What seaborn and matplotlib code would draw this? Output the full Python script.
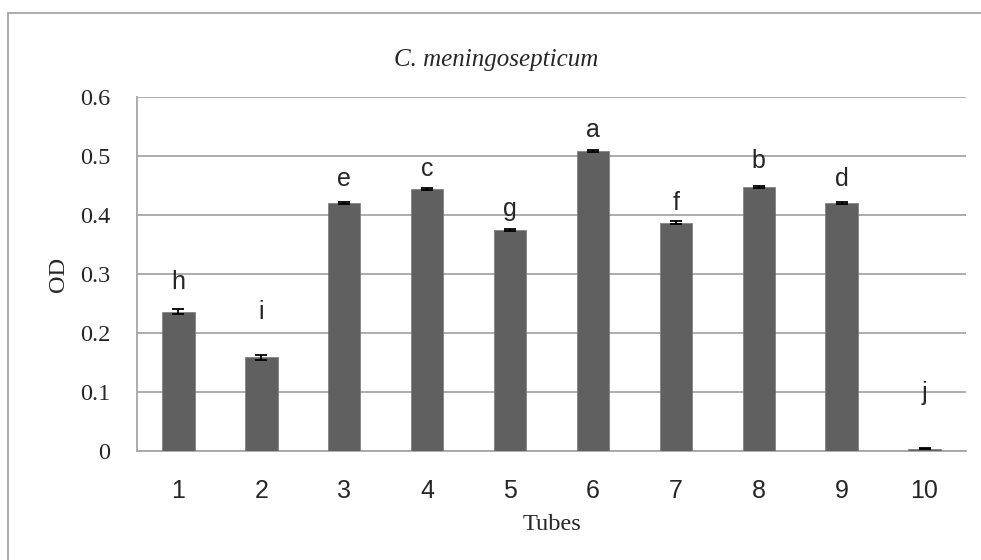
import matplotlib
matplotlib.use("Agg")
import matplotlib.pyplot as plt
import seaborn as sns
import pandas as pd
import numpy as np
from matplotlib.lines import Line2D

tubes = ["1", "2", "3", "4", "5", "6", "7", "8", "9", "10"]
od = [0.236, 0.159, 0.420, 0.444, 0.375, 0.508, 0.387, 0.447, 0.420, 0.004]
err = [0.004, 0.004, 0.002, 0.001, 0.002, 0.002, 0.002, 0.002, 0.002, 0.001]
letters = ["h", "i", "e", "c", "g", "a", "f", "b", "d", "j"]
letter_y = [0.275, 0.224, 0.449, 0.466, 0.398, 0.532, 0.408, 0.480, 0.449, 0.086]
yticks = [0, 0.1, 0.2, 0.3, 0.4, 0.5, 0.6]
ytick_labels = ["0", "0.1", "0.2", "0.3", "0.4", "0.5", "0.6"]

df = pd.DataFrame({"Tubes": tubes, "OD": od})

sns.set_theme(style="white")
plt.rcParams["font.family"] = ["Liberation Sans", "DejaVu Sans"]

SERIF = ["Liberation Serif", "DejaVu Serif"]
SANS = ["Liberation Sans", "DejaVu Sans"]

fig = plt.figure(figsize=(9.81, 5.6), dpi=100)
ax = fig.add_axes([137/981, 1-451/560, (966-137)/981, (451-97)/560])

grid_c = "#a6a6a6"
sns.barplot(data=df, x="Tubes", y="OD", order=tubes, color="#606060",
            width=0.39, saturation=1, ax=ax, zorder=3, edgecolor="#7a7a7a",
            linewidth=0.5)

xpos = np.arange(len(tubes))
ax.errorbar(xpos, od, yerr=err, fmt="none", ecolor="black", elinewidth=1.3,
            capsize=4, capthick=1.3, zorder=4)

for x, t, y in zip(xpos, letters, letter_y):
    ax.text(x, y, t, ha="center", va="baseline", fontsize=18,
            family=SANS, zorder=5)

ax.set_ylim(0, 0.6)
ax.set_xlim(-0.5, len(tubes) - 0.5)
ax.set_yticks(yticks)
ax.set_yticklabels(ytick_labels, family=SERIF, fontsize=17.5)
ax.yaxis.grid(True, color=grid_c, linewidth=1.3, zorder=0)
ax.set_axisbelow(True)

ax.set_xticks(xpos)
ax.set_xticklabels(tubes, fontsize=18, family=SANS)
ax.set_xticks(np.arange(-0.5, len(tubes), 1.0), minor=True)
ax.tick_params(axis="x", which="major", length=0, pad=20)
ax.tick_params(axis="x", which="minor", length=7, width=1.3, color=grid_c,
               direction="out")
ax.tick_params(axis="y", which="major", length=8, width=1.3, color=grid_c,
               direction="out", pad=11)

for s in ["top", "right"]:
    ax.spines[s].set_visible(False)
for s in ["left", "bottom"]:
    ax.spines[s].set_color(grid_c)
    ax.spines[s].set_linewidth(1.3)

ax.set_xlabel("Tubes", family=SERIF, fontsize=17.5, labelpad=8)
ax.set_ylabel("OD", family=SERIF, fontsize=17.5, labelpad=8)
fig.text(496/981, 1 - 60/560, "C. meningosepticum", family=SERIF,
         style="italic", fontsize=18, ha="center", va="center")

# outer chart border (left and top)
bx = 8/981
by = 1 - 13/560
fig.add_artist(Line2D([bx, bx], [0, by], transform=fig.transFigure,
                      color=grid_c, linewidth=1.3))
fig.add_artist(Line2D([bx, 1], [by, by], transform=fig.transFigure,
                      color=grid_c, linewidth=1.3))

fig.savefig("out.png", dpi=100)
